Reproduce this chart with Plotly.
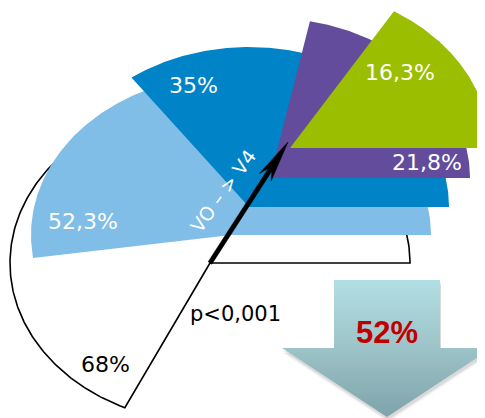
import numpy as np
import plotly.graph_objects as go

# ---- data ----
labels = ["68%", "52,3%", "35%", "21,8%", "16,3%"]
values = [68.0, 52.3, 35.0, 21.8, 16.3]
colors = ["#ffffff", "#80bde7", "#0084c7", "#634c9c", "#9bbe00"]
label_colors = ["#000000", "#ffffff", "#ffffff", "#ffffff", "#ffffff"]
p_text = "p<0,001"
arrow_text = "VO – > V4"
drop_text = "52%"

# ---- layout geometry (window pixels) ----
W, H = 485, 418            # browser window
PAD = 8                    # default page body margin
X0, Y0 = 210, 263          # apex of the first sector (px)
RX, RY = 200, 160          # px per data unit (x, y)
apex_px = [(210, 263), (231, 235), (249, 207), (270, 178), (290, 148)]
label_px = [(105, 364), (83, 221), (193, 85), (427, 162), (400, 72)]
p_px = (235, 314)
arrow_tail_px, arrow_tip_px = (210, 263), (288, 142)
arrow_text_px = (223, 191)
drop_cx, drop_top, drop_neck, drop_tip = 387, 280, 348, 417
drop_shaft_hw, drop_head_hw = 53, 105


def dx(px):
    return (px - X0) / RX


def dy(py):
    return (Y0 - py) / RY


fig = go.Figure()

# sectors
for i, (v, col) in enumerate(zip(values, colors)):
    cx, cy = dx(apex_px[i][0]), dy(apex_px[i][1])
    t = np.linspace(0, v / 100 * 2 * np.pi, 300)
    xs = np.concatenate([[cx], cx + np.cos(t), [cx]])
    ys = np.concatenate([[cy], cy + np.sin(t), [cy]])
    line = dict(color="black", width=1.6) if i == 0 else dict(width=0, color=col)
    fig.add_trace(go.Scatter(x=xs, y=ys, mode="lines", fill="toself",
                             fillcolor=col, line=line, hoverinfo="skip"))

# arrow (shaft + long narrow notched head), built in pixel space
T = np.array(arrow_tip_px, float)
S = np.array(arrow_tail_px, float)
u = (T - S) / np.linalg.norm(T - S)
n = np.array([-u[1], u[0]])
L, HW, NOTCH, SW = 42, 7, 9, 2.2
base = T - L * u
neck = T - (L - NOTCH) * u
head = [T, base + HW * n, neck + SW * n, S + SW * n, S - SW * n, neck - SW * n, base - HW * n, T]
fig.add_trace(go.Scatter(x=[dx(p[0]) for p in head], y=[dy(p[1]) for p in head],
                         mode="lines", fill="toself", fillcolor="black",
                         line=dict(width=0.5, color="black"), hoverinfo="skip"))

# down arrow (shadow + gradient body)
poly = [(drop_cx - drop_shaft_hw, drop_top), (drop_cx + drop_shaft_hw, drop_top),
        (drop_cx + drop_shaft_hw, drop_neck), (drop_cx + drop_head_hw, drop_neck),
        (drop_cx, drop_tip), (drop_cx - drop_head_hw, drop_neck),
        (drop_cx - drop_shaft_hw, drop_neck), (drop_cx - drop_shaft_hw, drop_top)]
for off, a in [(5, 0.08), (3, 0.12)]:
    fig.add_trace(go.Scatter(x=[dx(p[0] + 1) for p in poly], y=[dy(p[1] + off) for p in poly],
                             mode="lines", fill="toself",
                             fillcolor=f"rgba(60,60,60,{a})", line=dict(width=0),
                             hoverinfo="skip"))
fig.add_trace(go.Scatter(x=[dx(p[0]) for p in poly], y=[dy(p[1]) for p in poly],
                         mode="lines", fill="toself",
                         line=dict(width=0, color="#a6cfd3"),
                         fillgradient=dict(type="vertical",
                                           colorscale=[[0, "#7fa3aa"], [0.5, "#9cc3c8"], [1, "#b2dfe3"]],
                                           start=dy(drop_tip), stop=dy(drop_top)),
                         hoverinfo="skip"))

ann = []
for (lx, ly), txt, c in zip(label_px, labels, label_colors):
    ann.append(dict(x=dx(lx), y=dy(ly), text=txt, showarrow=False,
                    font=dict(family="DejaVu Sans", size=22, color=c)))
ann.append(dict(x=dx(p_px[0]), y=dy(p_px[1]), text=p_text, showarrow=False,
                font=dict(family="DejaVu Sans", size=21, color="black")))
ann.append(dict(x=dx(arrow_text_px[0]), y=dy(arrow_text_px[1]), text=arrow_text,
                showarrow=False, textangle=-54,
                font=dict(family="DejaVu Sans", size=19, color="white")))
ann.append(dict(x=dx(drop_cx), y=dy(332), text="<b>" + drop_text + "</b>",
                showarrow=False,
                font=dict(family="Liberation Sans", size=31, color="#c00000")))

fig.update_layout(
    width=W - PAD, height=H - PAD, autosize=False,
    margin=dict(l=0, r=0, t=0, b=0),
    paper_bgcolor="white", plot_bgcolor="white",
    showlegend=False,
    xaxis=dict(range=[dx(PAD), dx(W)], visible=False, fixedrange=True),
    yaxis=dict(range=[dy(H), dy(PAD)], visible=False, fixedrange=True),
    annotations=ann,
)

fig.write_html("out.html")
